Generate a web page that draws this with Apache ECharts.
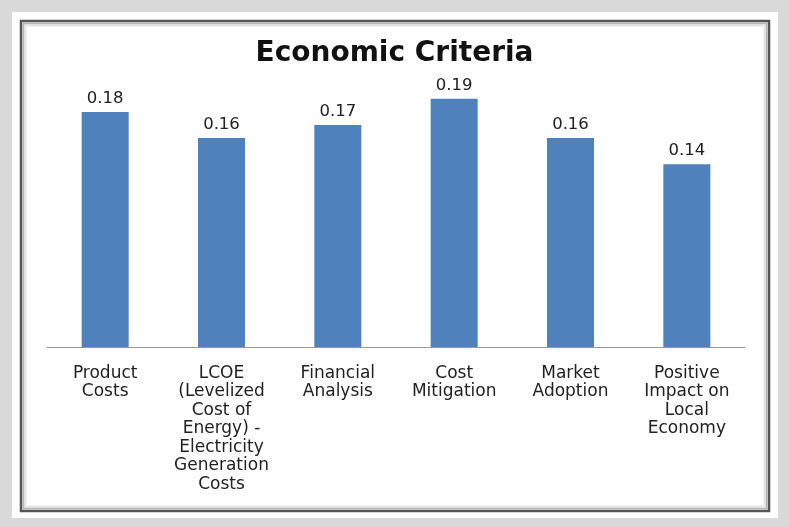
<!DOCTYPE html>
<html>
<head>
<meta charset="utf-8">
<script src="https://cdn.jsdelivr.net/npm/echarts@6/dist/echarts.min.js"></script>
<style>
html,body{margin:0;padding:0;background:#d9d9d9;}
#main{width:789px;height:527px;}
</style>
</head>
<body>
<div id="main"></div>
<script>
const title = 'Economic Criteria';
const categories = [
  'Product\nCosts',
  'LCOE\n(Levelized\nCost of\nEnergy) -\nElectricity\nGeneration\nCosts',
  'Financial\nAnalysis',
  'Cost\nMitigation',
  'Market\nAdoption',
  'Positive\nImpact on\nLocal\nEconomy'
];
const values = [0.18, 0.16, 0.17, 0.19, 0.16, 0.14];

const chart = echarts.init(document.getElementById('main'), null, {renderer: 'canvas'});
chart.setOption({
  backgroundColor: '#d9d9d9',
  animation: false,
  graphic: [
    {type: 'rect', z: -10, shape: {x: 12, y: 12, width: 766, height: 506}, style: {fill: '#ffffff'}},
    {type: 'rect', z: -9, shape: {x: 21, y: 21, width: 748, height: 490}, style: {fill: '#ffffff', stroke: '#555555', lineWidth: 2.5}},
    {type: 'rect', z: -8, shape: {x: 23.5, y: 23.5, width: 743, height: 485}, style: {fill: 'none', stroke: '#b5b5b5', lineWidth: 2}},
    {type: 'rect', z: -8, shape: {x: 25.5, y: 25.5, width: 739, height: 481}, style: {fill: 'none', stroke: '#e6e6e6', lineWidth: 2}}
  ],
  title: {
    text: title,
    left: 'center',
    top: 35,
    textStyle: {fontFamily: 'DejaVu Sans', fontWeight: 'bold', fontSize: 28, color: '#111111'}
  },
  grid: {left: 47, right: 44, top: 85.8, bottom: 180},
  xAxis: {
    type: 'category',
    data: categories,
    axisLine: {show: true, lineStyle: {color: '#9a9a9a', width: 1}},
    axisTick: {show: false},
    axisLabel: {
      interval: 0,
      margin: 17,
      fontFamily: 'DejaVu Sans',
      fontSize: 17,
      lineHeight: 18.5,
      color: '#222222'
    }
  },
  yAxis: {
    type: 'value',
    min: 0,
    max: 0.2,
    show: false,
    splitLine: {show: false}
  },
  series: [{
    type: 'bar',
    data: values,
    barWidth: 47,
    itemStyle: {color: '#4f81bd'},
    label: {
      show: true,
      position: 'top',
      distance: 5,
      fontFamily: 'DejaVu Sans',
      fontSize: 16.5,
      color: '#222222',
      formatter: p => p.value.toFixed(2)
    }
  }]
});
</script>
</body>
</html>
